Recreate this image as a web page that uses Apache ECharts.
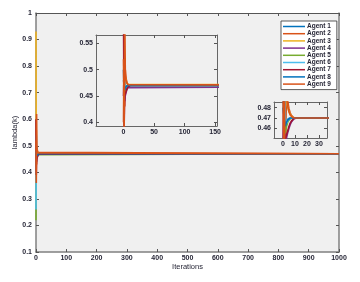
<!DOCTYPE html>
<html><head><meta charset="utf-8">
<script src="https://cdn.jsdelivr.net/npm/echarts@6/dist/echarts.min.js"></script>
<style>html,body{margin:0;padding:0;background:#fff}#c{width:360px;height:282px}</style>
</head><body><div id="c"></div>
<script>
const iterations = [0, 1, 2, 3, 4, 5, 6, 7, 8, 9, 10, 11, 1000];
const agentNames = ['Agent 1','Agent 2','Agent 3','Agent 4','Agent 5','Agent 6','Agent 7','Agent 8','Agent 9'];
const agent1 = [0.50, 0.455, 0.466, 0.468, 0.469, 0.4697, 0.47, 0.47, 0.47, 0.47, 0.47, 0.47, 0.47];
const agent2 = [0.40, 0.56, 0.43, 0.50, 0.486, 0.479, 0.475, 0.4725, 0.471, 0.4703, 0.47, 0.47, 0.47];
const agent3 = [0.93, 0.44, 0.49, 0.485, 0.48, 0.476, 0.4735, 0.472, 0.4708, 0.4702, 0.47, 0.47, 0.47];
const agent4 = [0.45, 0.50, 0.44, 0.451, 0.456, 0.46, 0.4635, 0.466, 0.4677, 0.469, 0.4697, 0.47, 0.47];
const agent5 = [0.22, 0.50, 0.455, 0.462, 0.466, 0.468, 0.4693, 0.47, 0.47, 0.47, 0.47, 0.47, 0.47];
const agent6 = [0.26, 0.54, 0.47, 0.465, 0.4675, 0.469, 0.47, 0.47, 0.47, 0.47, 0.47, 0.47, 0.47];
const agent7 = [0.60, 0.39, 0.45, 0.454, 0.458, 0.462, 0.465, 0.467, 0.4685, 0.4695, 0.47, 0.47, 0.47];
const agent8 = [0.48, 0.47, 0.462, 0.466, 0.468, 0.4693, 0.47, 0.47, 0.47, 0.47, 0.47, 0.47, 0.47];
const agent9 = [0.52, 0.36, 0.62, 0.49, 0.481, 0.476, 0.473, 0.4715, 0.4705, 0.47, 0.47, 0.47, 0.47];
const agentValues = [agent1, agent2, agent3, agent4, agent5, agent6, agent7, agent8, agent9];
const colors = ['#0072BD','#D95319','#EDB120','#7E2F8E','#77AC30','#4DBEEE','#A2142F','#0072BD','#D95319'];
const inset1XTicks = [0, 50, 100, 150];
const inset1YTicks = [0.4, 0.45, 0.5, 0.55];
const inset2XTicks = [0, 10, 20, 30];
const inset2YTicks = [0.46, 0.47, 0.48];

const txt = '#262636';
const font = 'Liberation Sans';
const bg = '#f0f0f0';
const fmt = v => String(+Number(v).toFixed(2));

function ax(gridIndex, pos, min, max, opts) {
  const o = Object.assign({
    type: 'value', gridIndex, position: pos, min, max,
    axisLine: {show: true, onZero: false, lineStyle: {color: opts.lc || '#666', width: opts.lw || 1}},
    axisTick: {show: true, inside: true, length: 3, lineStyle: {color: '#555'}},
    axisLabel: {show: !opts.noLabel, color: txt, fontSize: 7, fontWeight: 'bold', fontFamily: font, margin: opts.margin || 3, formatter: fmt},
    splitLine: {show: false}
  }, opts.extra || {});
  if (opts.interval) o.interval = opts.interval;
  if (opts.ticks) {
    o.axisTick.customValues = opts.ticks;
    o.axisLabel.customValues = opts.ticks;
  }
  return o;
}

const grids = [
  {left: 36, top: 13, width: 303, height: 239, show: true, backgroundColor: bg, borderWidth: 0},
  {left: 96, top: 35, width: 121, height: 91, show: true, backgroundColor: bg, borderWidth: 0},
  {left: 274, top: 102, width: 53, height: 36, show: true, backgroundColor: bg, borderWidth: 0}
];

const xAxes = [
  ax(0, 'bottom', 0, 1000, {interval: 100, lc: '#808080', lw: 1.5, extra: {name: 'Iterations', nameLocation: 'middle', nameGap: 11, nameMoveOverlap: false, nameTextStyle: {color: txt, fontSize: 7.5, fontFamily: font}}}),
  ax(0, 'top', 0, 1000, {interval: 100, noLabel: true, lc: '#555'}),
  ax(1, 'bottom', -45, 153, {ticks: inset1XTicks}),
  ax(1, 'top', -45, 153, {ticks: inset1XTicks, noLabel: true}),
  ax(2, 'bottom', -7.5, 36.7, {ticks: inset2XTicks}),
  ax(2, 'top', -7.5, 36.7, {ticks: inset2XTicks, noLabel: true})
];
const yAxes = [
  ax(0, 'left', 0.1, 1, {interval: 0.1, lc: '#808080', lw: 1.5, margin: 4, extra: {name: 'lambda(k)', nameLocation: 'middle', nameGap: 17, nameMoveOverlap: false, nameTextStyle: {color: txt, fontSize: 7.5, fontFamily: font}}}),
  ax(0, 'right', 0.1, 1, {interval: 0.1, noLabel: true, lc: '#808080', lw: 1.5}),
  ax(1, 'left', 0.393, 0.566, {ticks: inset1YTicks}),
  ax(1, 'right', 0.393, 0.566, {ticks: inset1YTicks, noLabel: true}),
  ax(2, 'left', 0.4506, 0.4855, {ticks: inset2YTicks}),
  ax(2, 'right', 0.4506, 0.4855, {ticks: inset2YTicks, noLabel: true})
];

const series = [];
[0, 1, 2].forEach(g => {
  agentNames.forEach((name, i) => {
    series.push({
      name, type: 'line', xAxisIndex: g * 2, yAxisIndex: g * 2,
      data: iterations.map((x, k) => [x, agentValues[i][k]]),
      showSymbol: false, symbol: 'none', clip: true,
      lineStyle: {color: colors[i], width: 1.6},
      itemStyle: {color: colors[i]}
    });
  });
});

const chart = echarts.init(document.getElementById('c'));
chart.setOption({
  backgroundColor: '#ffffff',
  animation: false,
  grid: grids,
  xAxis: xAxes,
  yAxis: yAxes,
  legend: {
    data: agentNames, orient: 'vertical', left: 281, top: 21,
    backgroundColor: '#ffffff', borderColor: '#333', borderWidth: 0.8,
    padding: [2, 6, 2, 2], itemGap: 0.2, itemWidth: 22, itemHeight: 1.5,
    icon: 'rect',
    textStyle: {fontSize: 6.5, fontWeight: 'bold', color: txt, fontFamily: font, lineHeight: 7, padding: [0, 0, 0, -3]}
  },
  series
});
</script></body></html>
